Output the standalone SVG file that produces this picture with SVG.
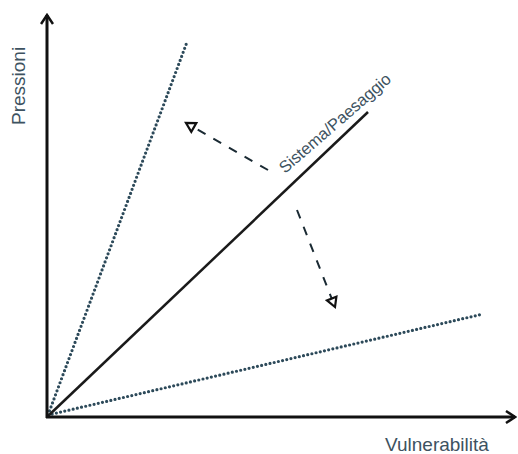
<svg xmlns="http://www.w3.org/2000/svg" width="518" height="454" viewBox="0 0 518 454">
<defs>
<marker id="axis" markerWidth="12" markerHeight="14" refX="10" refY="7" orient="auto" markerUnits="userSpaceOnUse">
<path d="M1,1 L10,7 L1,13" fill="none" stroke="#111" stroke-width="2.5"/>
</marker>
<marker id="tri" markerWidth="14" markerHeight="14" refX="11" refY="7" orient="auto" markerUnits="userSpaceOnUse">
<path d="M2,2 L11,7 L2,12 Z" fill="#fff" stroke="#111" stroke-width="2.2"/>
</marker>
<style>
.axis{stroke:#111;stroke-width:3;fill:none}
.dot{stroke:#2d4a5a;stroke-width:3.2;stroke-dasharray:0 4.3;stroke-linecap:round;fill:none}
.solid{stroke:#1a1a1a;stroke-width:2.5;fill:none}
.dash{stroke:#1a2a33;stroke-width:2;stroke-dasharray:9 9;fill:none}
.lbl{font-family:"Liberation Sans",Arial,sans-serif;fill:#3d5260}
</style>
</defs>
<rect width="518" height="454" fill="#fff"/>
<g id="connectors">
<line class="dot" x1="48" y1="415" x2="187" y2="42"/>
<line class="dot" x1="48" y1="415" x2="483" y2="314"/>
<line class="solid" x1="47" y1="417" x2="368" y2="112"/>
<line class="dash" x1="268" y1="170" x2="186" y2="123" marker-end="url(#tri)"/>
<line class="dash" x1="297" y1="210" x2="335" y2="307" marker-end="url(#tri)"/>
</g>
<g id="axes">
<line class="axis" x1="47" y1="418" x2="47" y2="15" marker-end="url(#axis)"/>
<line class="axis" x1="46" y1="417" x2="515" y2="417" marker-end="url(#axis)"/>
</g>
<g id="label-pressioni"><text class="lbl" font-size="19" transform="translate(25,125) rotate(-90)">Pressioni</text></g>
<g id="label-vulnerabilita"><text class="lbl" font-size="19" x="385" y="451">Vulnerabilità</text></g>
<g id="label-sistema"><text class="lbl" font-size="16.5" transform="translate(285,174) rotate(-41)">Sistema/Paesaggio</text></g>
</svg>
